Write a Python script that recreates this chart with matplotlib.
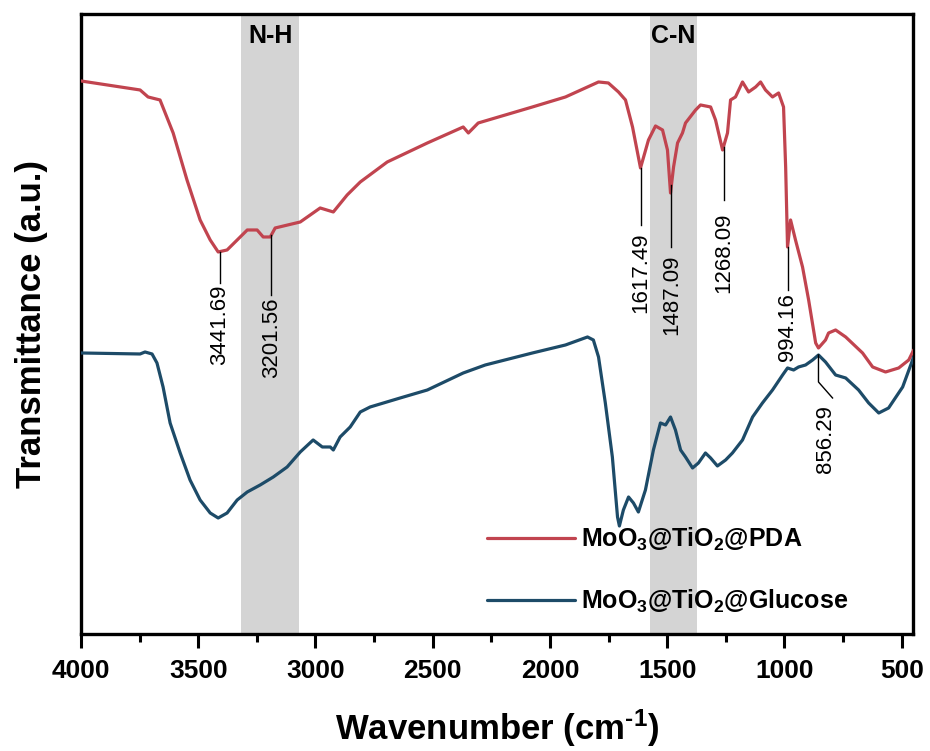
import numpy as np
import matplotlib
matplotlib.use("Agg")
import matplotlib.pyplot as plt

plt.rcParams['font.family'] = ['Liberation Sans', 'DejaVu Sans']
plt.rcParams['mathtext.fontset'] = 'custom'
plt.rcParams['mathtext.rm'] = 'Liberation Sans:bold'
plt.rcParams['mathtext.bf'] = 'Liberation Sans:bold'
plt.rcParams['mathtext.it'] = 'Liberation Sans:bold'

# FTIR spectra (wavenumber, transmittance in arbitrary units)
pda_wn = [4000, 3748, 3714, 3663, 3607, 3548, 3492, 3449, 3415, 3377, 3334, 3291,
          3249, 3223, 3193, 3172, 3065, 2980, 2924, 2865, 2809, 2694, 2523, 2370,
          2348, 2306, 2075, 1934, 1793, 1751, 1708, 1678, 1648, 1614, 1580, 1550,
          1520, 1499, 1486, 1473, 1456, 1435, 1422, 1379, 1358, 1315, 1294, 1264,
          1243, 1230, 1209, 1179, 1153, 1123, 1102, 1081, 1051, 1025, 1004, 995,
          987, 974, 953, 923, 897, 867, 855, 825, 812, 782, 739, 667, 624, 569,
          513, 470, 449]
pda_t = [553, 544, 537, 534, 501, 454, 414, 394, 382, 384, 394, 404,
         404, 397, 397, 406, 412, 426, 422, 439, 452, 472, 491, 507,
         501, 511, 527, 537, 552, 551, 542, 534, 507, 466, 494, 508,
         504, 484, 441, 467, 491, 501, 511, 524, 529, 527, 514, 484,
         501, 534, 537, 552, 542, 547, 552, 544, 537, 541, 527, 467,
         387, 414, 394, 367, 334, 291, 286, 294, 301, 304, 297, 281, 267, 262,
         266, 274, 284]

glu_wn = [4000, 3748, 3727, 3697, 3676, 3650, 3620, 3577, 3535, 3492, 3449, 3415,
          3377, 3334, 3291, 3236, 3180, 3121, 3065, 3010, 2971, 2937, 2924, 2895,
          2852, 2809, 2767, 2639, 2523, 2370, 2276, 2075, 1934, 1840, 1815, 1793,
          1764, 1734, 1712, 1704, 1687, 1665, 1644, 1623, 1593, 1559, 1529, 1507,
          1486, 1465, 1443, 1422, 1392, 1367, 1337, 1315, 1286, 1251, 1222, 1179,
          1136, 1094, 1051, 1008, 987, 961, 940, 910, 880, 855, 825, 782, 739,
          684, 641, 598, 556, 496, 449]
glu_t = [281, 280, 282, 280, 271, 247, 211, 181, 154, 134, 121, 116,
         121, 134, 142, 149, 157, 167, 182, 194, 187, 187, 184, 197,
         207, 222, 227, 236, 244, 261, 269, 281, 289, 297, 294, 277,
         231, 177, 117, 108, 124, 137, 131, 122, 144, 184, 211, 209,
         217, 204, 184, 177, 166, 171, 181, 176, 168, 174, 181, 194,
         217, 231, 244, 259, 266, 264, 267, 269, 274, 279, 272, 259, 256,
         244, 231, 221, 226, 247, 277]

labels = ['MoO$_3$@TiO$_2$@PDA', 'MoO$_3$@TiO$_2$@Glucose']
colors = ['#c1444f', '#1d4b68']

bands = [(3317, 3070, 'N-H'), (1572, 1375, 'C-N')]

# peak labels: text, wavenumber, series, end of leader line, top of text
peaks = [('3441.69', 3407, 0, 351, 349),
         ('3201.56', 3189, 0, 339, 336),
         ('1617.49', 1614, 0, 409, 401),
         ('1487.09', 1482, 0, 387, 379),
         ('1268.09', 1260, 0, 434, 421),
         ('994.16', 987, 0, 344, 341)]

fig = plt.figure(figsize=(9.3, 7.51), dpi=100)
ax = fig.add_axes([0.0871, 0.1558, 0.8946, 0.8256])

for lo, hi, name in bands:
    ax.axvspan(lo, hi, color='#d4d4d4', lw=0, zorder=0)
    ax.text((lo + hi) / 2, 598, name, ha='center', va='center',
            fontsize=18, fontweight='bold')

series = [(pda_wn, pda_t), (glu_wn, glu_t)]
for (wn, t), lab, c in zip(series, labels, colors):
    ax.plot(wn, t, color=c, lw=2.3, label=lab, solid_capstyle='round', zorder=3)

for txt, w, s, yend, ytop in peaks:
    wn, t = series[s]
    ycurve = np.interp(w, wn[::-1], t[::-1])
    ax.plot([w, w], [ycurve, yend], color='black', lw=1, zorder=4)
    ax.text(w, ytop, txt, rotation=90, ha='center', va='top', fontsize=16)

# 856.29 has a bent leader
y856 = np.interp(855, glu_wn[::-1], glu_t[::-1])
ax.plot([855, 855, 795], [y856, 252, 236], color='black', lw=1, zorder=4)
ax.text(825, 229, '856.29', rotation=90, ha='center', va='top', fontsize=16)

ax.set_xlim(4000, 452)
ax.set_ylim(0, 620)
ax.set_xticks([4000, 3500, 3000, 2500, 2000, 1500, 1000, 500])
ax.set_xticks(np.arange(3750, 450, -500), minor=True)
ax.set_yticks([])
ax.tick_params(axis='x', which='major', direction='out', length=10, width=2.2,
               labelsize=19, pad=8)
ax.tick_params(axis='x', which='minor', direction='out', length=6, width=2.2)
for lab in ax.get_xticklabels():
    lab.set_fontweight('bold')
for sp in ax.spines.values():
    sp.set_linewidth(2.4)

ax.set_xlabel(r'Wavenumber (cm$^{\text{-1}}$)', fontsize=25, fontweight='bold', labelpad=18)
ax.set_ylabel('Transmittance (a.u.)', fontsize=25, fontweight='bold', labelpad=24)

leg = ax.legend(loc='center left', bbox_to_anchor=(0.488, 0.1025), frameon=False,
                fontsize=18, handlelength=3.5, handletextpad=0.25, labelspacing=1.4,
                borderpad=0, borderaxespad=0)
for t in leg.get_texts():
    t.set_fontweight('bold')

fig.savefig('out.png', dpi=100)
